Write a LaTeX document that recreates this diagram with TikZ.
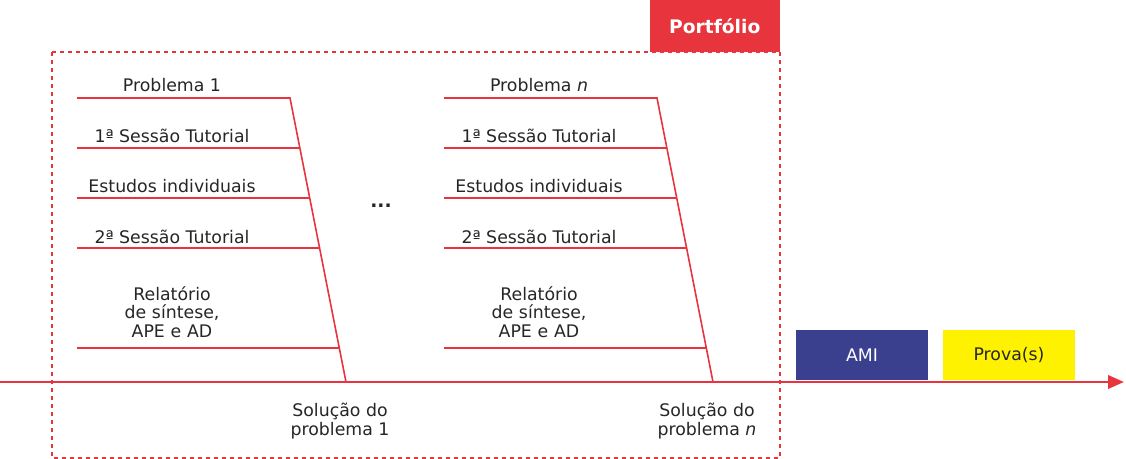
\documentclass[tikz,border=0pt]{standalone}
\usepackage{fontspec}
\setmainfont{DejaVu Sans}
\usetikzlibrary{arrows.meta}
\definecolor{pred}{HTML}{E8343C}
\definecolor{pblue}{HTML}{3A3F8E}
\definecolor{pyel}{HTML}{FFF200}
\begin{document}
\begin{tikzpicture}[x=0.75pt,y=-0.75pt,
  redline/.style={pred,line width=1.2pt},
  lbl/.style={font=\fontsize{13}{15}\selectfont,text=black!85,align=center,inner sep=0pt},
  boxnode/.style={minimum width=99pt,minimum height=37.5pt,inner sep=0pt,font=\fontsize{13}{15}\selectfont}]
\useasboundingbox (0,0) rectangle (1126,459);
\draw[pred,dashed,line width=1pt] (52,52) rectangle (780,458);
\node[fill=pred,text=white,font=\bfseries\fontsize{14}{16}\selectfont,minimum width=97.5pt,minimum height=39pt,inner sep=0pt,anchor=north east] (port) at (780,0) {Portfólio};
\coordinate (a0) at (0,382);
\coordinate (a1) at (1124,382);
\draw[redline,line width=2pt,-{Triangle[length=12pt,width=10pt]}] (a0) -- (a1);
\foreach \dx/\g/\top/\sol in {0/L/Problema 1/problema 1, 367/R/Problema \textit{n}/problema \textit{n}}{
  \begin{scope}[xshift=\dx*0.75pt]
  \coordinate (\g t) at (290,98);
  \coordinate (\g b) at (346,382);
  \draw[redline] (77,98) -- (\g t) -- (\g b);
  \draw[redline] (77,148) -- (299.9,148);
  \draw[redline] (77,198) -- (309.7,198);
  \draw[redline] (77,248) -- (319.6,248);
  \draw[redline] (77,348) -- (339.3,348);
  \node[lbl] (\g 1) at (172,85) {\top};
  \node[lbl] (\g 2) at (172,136) {1ª Sessão Tutorial};
  \node[lbl] (\g 3) at (172,186) {Estudos individuais};
  \node[lbl] (\g 4) at (172,237) {2ª Sessão Tutorial};
  \node[lbl,text width=150pt] (\g 5) at (172,312) {Relatório\\[-1pt]de síntese,\\[-1pt]APE e AD};
  \node[lbl] (\g s) at (340,421) {Solução do\\[-1pt]\sol};
  \end{scope}
}
\node[lbl,font=\bfseries\fontsize{14}{16}\selectfont] (dots) at (381,206) {...};
\node[boxnode,fill=pblue,text=white] (ami) at (862,355) {AMI};
\node[boxnode,fill=pyel,text=black!85] (prova) at (1009,355) {Prova(s)};
\end{tikzpicture}
\end{document}
